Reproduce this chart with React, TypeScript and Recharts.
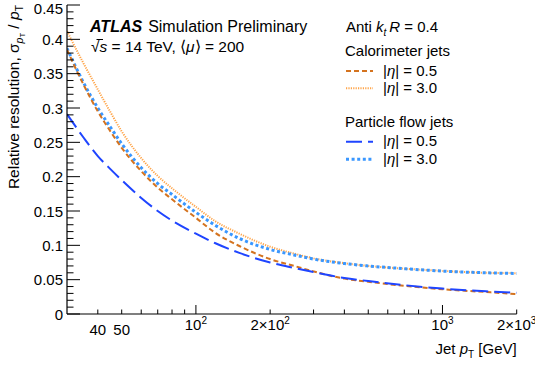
import React from 'react';
import { LineChart, Line, XAxis, YAxis } from 'recharts';

// jet pT points [GeV]
const pt = [30, 35, 40, 45, 50, 60, 70, 80, 100, 120, 150, 200, 250, 300, 400, 500, 700, 1000, 1500, 2000];
const caloEta05 = [0.385, 0.334, 0.295, 0.266, 0.242, 0.208, 0.184, 0.167, 0.14, 0.118, 0.099, 0.08, 0.07, 0.062, 0.0515, 0.047, 0.041, 0.036, 0.032, 0.029];
const caloEta30 = [0.412, 0.365, 0.327, 0.294, 0.266, 0.227, 0.201, 0.183, 0.156, 0.135, 0.117, 0.098, 0.088, 0.081, 0.074, 0.07, 0.066, 0.0628, 0.06, 0.0595];
const pflowEta05 = [0.291, 0.257, 0.23, 0.211, 0.195, 0.169, 0.15, 0.136, 0.117, 0.103, 0.089, 0.075, 0.067, 0.061, 0.0525, 0.048, 0.042, 0.037, 0.033, 0.031];
const pflowEta30 = [0.387, 0.337, 0.3, 0.272, 0.248, 0.213, 0.19, 0.174, 0.148, 0.129, 0.11, 0.094, 0.086, 0.08, 0.0735, 0.07, 0.066, 0.0625, 0.06, 0.059];

const xTicks = [40, 50, 60, 70, 80, 90, 100, 200, 300, 400, 500, 600, 700, 800, 900, 1000, 2000];
const xMajor = [100, 1000];
const xLabelValues = [40, 50, 100, 200, 1000, 2000];
const xLabelBase = ['40', '50', '10', '2\u00d710', '10', '2\u00d710'];
const xLabelExp = ['', '', '2', '2', '3', '3'];

const yMajorTicks = [0, 0.05, 0.1, 0.15, 0.2, 0.25, 0.3, 0.35, 0.4, 0.45];
const yTickLabels = ['0', '0.05', '0.1', '0.15', '0.2', '0.25', '0.3', '0.35', '0.4', '0.45'];
const yTicks: number[] = [];
for (let i = 0; i <= 45; i++) yTicks.push(i / 100);

const data = pt.map((p, i) => ({
  pt: p,
  calo05: caloEta05[i],
  calo30: caloEta30[i],
  pf05: pflowEta05[i],
  pf30: pflowEta30[i],
}));

const FONT = '"Liberation Sans", Arial, Helvetica, sans-serif';

const C_CALO05 = '#d4731f';
const C_CALO30 = '#ffa54a';
const C_PF05 = '#1f45ff';
const C_PF30 = '#3a97ff';

const isYMajor = (v: number) => yMajorTicks.some((m) => Math.abs(m - v) < 1e-6);

const LeftTick = (props: any) => {
  const { x, y, payload } = props;
  const major = isYMajor(payload.value);
  const idx = yMajorTicks.findIndex((m) => Math.abs(m - payload.value) < 1e-6);
  // top label sits right at the chart edge, keep it inside the picture
  const ty = idx === yMajorTicks.length - 1 ? Math.max(y + 5.5, 14) : y + 5.5;
  return (
    <g>
      <line x1={x} x2={x + (major ? 13 : 6.5)} y1={y} y2={y} stroke="#000" strokeWidth={1} />
      {major && (
        <text x={x - 4} y={ty} textAnchor="end" fontSize={15} fontFamily={FONT} fill="#000">
          {yTickLabels[idx]}
        </text>
      )}
    </g>
  );
};

const RightTick = (props: any) => {
  const { x, y, payload } = props;
  const major = isYMajor(payload.value);
  return <line x1={x} x2={x - (major ? 12 : 6)} y1={y} y2={y} stroke="#000" strokeWidth={1} />;
};

const BottomTick = (props: any) => {
  const { x, y, payload } = props;
  const v = payload.value;
  const major = xMajor.includes(v);
  const li = xLabelValues.indexOf(v);
  const exp = li >= 0 ? xLabelExp[li] : '';
  return (
    <g>
      <line x1={x} x2={x} y1={y} y2={y - (major ? 9 : 4.5)} stroke="#000" strokeWidth={1} />
      {li >= 0 && (
        <text x={x} y={y + (exp ? 16 : 21)} textAnchor="middle" fontSize={15} fontFamily={FONT} fill="#000">
          <tspan>{xLabelBase[li]}</tspan>
          {exp && (
            <tspan fontSize={10} dy={-6}>
              {exp}
            </tspan>
          )}
        </text>
      )}
    </g>
  );
};

const TopTick = (props: any) => {
  const { x, y, payload } = props;
  const major = xMajor.includes(payload.value);
  return <line x1={x} x2={x} y1={y} y2={y + (major ? 9 : 4.5)} stroke="#000" strokeWidth={1} />;
};

const Annotations = () => (
  <svg
    width={535}
    height={367}
    style={{ position: 'absolute', left: 0, top: 0, pointerEvents: 'none' }}
    fontFamily={FONT}
  >
    {/* y title */}
    <text transform="translate(19,5) rotate(-90)" textAnchor="end" fontSize={15.5} fill="#000">
      <tspan>Relative resolution, σ</tspan>
      <tspan fontSize={10.5} dy={4} fontStyle="italic">p</tspan>
      <tspan fontSize={7.5} dy={2}>T</tspan>
      <tspan dy={-6}> / </tspan>
      <tspan fontStyle="italic">p</tspan>
      <tspan fontSize={10.5} dy={4}>T</tspan>
    </text>
    {/* x title */}
    <text x={516.7} y={354} textAnchor="end" fontSize={15} fill="#000">
      <tspan>Jet </tspan>
      <tspan fontStyle="italic">p</tspan>
      <tspan fontSize={10} dy={4}>T</tspan>
      <tspan dy={-4}> [GeV]</tspan>
    </text>

    <text x={90} y={32} fontSize={16} fill="#000">
      <tspan fontWeight="bold" fontStyle="italic">ATLAS</tspan>
      <tspan dx={6}>Simulation Preliminary</tspan>
    </text>
    <text x={91} y={52} fontSize={15.5} fill="#000">
      <tspan>√</tspan>
      <tspan fontStyle="italic">s</tspan>
      <tspan> = 14 TeV, ⟨</tspan>
      <tspan fontStyle="italic">μ</tspan>
      <tspan>⟩ = 200</tspan>
    </text>
    <line x1={96.5} x2={103} y1={39.5} y2={39.5} stroke="#000" strokeWidth={1} />

    <text x={346} y={31.5} fontSize={15} fill="#000">
      <tspan>Anti </tspan>
      <tspan fontStyle="italic">k</tspan>
      <tspan fontStyle="italic" fontSize={10} dy={4}>t</tspan>
      <tspan fontStyle="italic" dy={-4} dx={3}>R</tspan>
      <tspan> = 0.4</tspan>
    </text>
    <text x={345} y={56} fontSize={15} fill="#000">Calorimeter jets</text>
    <line x1={346} x2={373} y1={71} y2={71} stroke={C_CALO05} strokeWidth={2} strokeDasharray="5 3" />
    <text x={383} y={75.5} fontSize={15} fill="#000">
      |<tspan fontStyle="italic">η</tspan>| = 0.5
    </text>
    <line x1={346} x2={373} y1={88.3} y2={88.3} stroke={C_CALO30} strokeWidth={2} strokeDasharray="1.2 1.2" />
    <text x={383} y={92.5} fontSize={15} fill="#000">
      |<tspan fontStyle="italic">η</tspan>| = 3.0
    </text>

    <text x={345} y={126.5} fontSize={15} fill="#000">Particle flow jets</text>
    <line x1={346} x2={373} y1={141.7} y2={141.7} stroke={C_PF05} strokeWidth={2} strokeDasharray="16 6" />
    <text x={383} y={146} fontSize={15} fill="#000">
      |<tspan fontStyle="italic">η</tspan>| = 0.5
    </text>
    <line x1={346} x2={373} y1={159.3} y2={159.3} stroke={C_PF30} strokeWidth={3} strokeDasharray="3 2.6" />
    <text x={383} y={163.5} fontSize={15} fill="#000">
      |<tspan fontStyle="italic">η</tspan>| = 3.0
    </text>
  </svg>
);

export default function App() {
  return (
    <div style={{ position: 'absolute', left: 0, top: 0, width: 535, height: 367, background: '#fff' }}>
      <LineChart width={535} height={367} data={data} margin={{ top: 5, right: 18.3, left: 0, bottom: 0 }}>
        <XAxis
          dataKey="pt"
          type="number"
          scale="log"
          domain={[30, 2000]}
          allowDataOverflow
          ticks={xTicks}
          interval={0}
          height={53}
          tickSize={0}
          tickMargin={0}
          tickLine={false}
          axisLine={{ stroke: '#000', strokeWidth: 1.2 }}
          tick={<BottomTick />}
        />
        <XAxis
          xAxisId="top"
          orientation="top"
          dataKey="pt"
          type="number"
          scale="log"
          domain={[30, 2000]}
          allowDataOverflow
          ticks={xTicks}
          interval={0}
          height={0}
          tickSize={0}
          tickMargin={0}
          tickLine={false}
          axisLine={{ stroke: '#000', strokeWidth: 1.2 }}
          tick={<TopTick />}
        />
        <YAxis
          type="number"
          domain={[0, 0.45]}
          allowDataOverflow
          ticks={yTicks}
          interval={0}
          width={67}
          tickSize={0}
          tickMargin={0}
          tickLine={false}
          axisLine={{ stroke: '#000', strokeWidth: 1.2 }}
          tick={<LeftTick />}
        />
        <YAxis
          yAxisId="right"
          orientation="right"
          type="number"
          domain={[0, 0.45]}
          allowDataOverflow
          ticks={yTicks}
          interval={0}
          width={0}
          tickSize={0}
          tickMargin={0}
          tickLine={false}
          axisLine={{ stroke: '#000', strokeWidth: 1.2 }}
          tick={<RightTick />}
        />
        <Line type="monotone" dataKey="calo30" stroke={C_CALO30} strokeWidth={2} strokeDasharray="1.2 1.2" dot={false} isAnimationActive={false} />
        <Line type="monotone" dataKey="pf30" stroke={C_PF30} strokeWidth={3} strokeDasharray="3 2.6" dot={false} isAnimationActive={false} />
        <Line type="monotone" dataKey="calo05" stroke={C_CALO05} strokeWidth={2} strokeDasharray="5 3" dot={false} isAnimationActive={false} />
        <Line type="monotone" dataKey="pf05" stroke={C_PF05} strokeWidth={2} strokeDasharray="16 6" dot={false} isAnimationActive={false} />
      </LineChart>
      <Annotations />
    </div>
  );
}
